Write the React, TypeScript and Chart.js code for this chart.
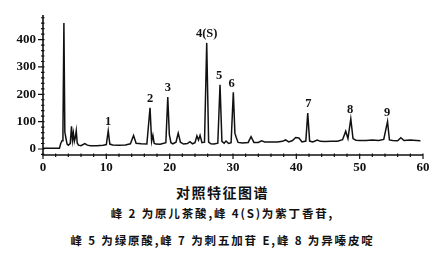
import React, { useEffect, useRef } from "react";
import { Chart, registerables } from "chart.js";

Chart.register(...registerables);

// Retention time (min)
const times = [
  0, 2.6, 2.8, 3.0, 3.15, 3.3, 3.45, 3.6, 3.8, 4.0, 4.3, 4.5, 4.65, 4.8, 4.95, 5.1, 5.25, 5.4, 5.6, 6.0,
  6.6, 7.0, 7.5, 8.5, 9.5, 10.0, 10.3, 10.55, 11, 12, 13, 13.8, 14.3, 14.7, 15.5, 16.4, 16.9, 17.15, 17.35, 17.55,
  17.8, 18.5, 19.4, 19.7, 19.95, 20.2, 20.5, 21.0, 21.35, 21.7, 22.2, 22.8, 23.2, 23.6, 24.0, 24.3, 24.55, 24.8, 25.1, 25.5,
  25.85, 26.15, 26.5, 27.0, 27.6, 27.95, 28.25, 28.6, 28.9, 29.3, 29.7, 30.05, 30.3, 30.5, 30.8, 31.5, 32.4, 32.85, 33.3, 34.0,
  34.5, 35.0, 36.0, 37.0, 37.8, 38.3, 38.8, 39.4, 39.9, 40.4, 40.9, 41.5, 41.8, 42.1, 42.6, 43.3, 43.8, 44.5, 45.5, 46.5,
  47.3, 47.8, 48.15, 48.6, 48.95, 49.4, 50.0, 51.0, 52.0, 53.0, 53.8, 54.4, 54.7, 55.2, 56.0, 56.5, 57.0, 58.0, 59.0, 59.6,
];
// Detector response (mAU)
const signal = [
  3, 3, 20, 30, 62, 461, 62, 42, 18, 14, 20, 83, 32, 58, 28, 42, 67, 22, 14, 12,
  20, 14, 12, 12, 14, 16, 66, 18, 15, 14, 15, 19, 49, 21, 19, 18, 151, 28, 50, 21,
  18, 17, 23, 190, 52, 23, 19, 25, 58, 25, 18, 20, 27, 19, 23, 48, 33, 50, 23, 25,
  388, 25, 19, 18, 21, 235, 28, 21, 29, 20, 23, 207, 58, 43, 24, 22, 24, 45, 24, 24,
  30, 26, 26, 26, 28, 33, 26, 31, 42, 40, 26, 29, 131, 29, 26, 33, 28, 27, 28, 28,
  34, 65, 38, 110, 38, 32, 31, 31, 33, 31, 35, 100, 33, 31, 30, 41, 31, 33, 31, 30,
];

// Peak annotations
const peakLabels = ["1", "2", "3", "4(S)", "5", "6", "7", "8", "9"];
const peakTimes = [10.3, 16.9, 19.7, 25.85, 27.8, 29.8, 41.9, 48.5, 54.35];
const peakHeights = [66, 151, 190, 388, 235, 207, 131, 110, 100];

const xMajorTicks = [0, 10, 20, 30, 40, 50, 60];
const yMajorTicks = [0, 100, 200, 300, 400];

const chartTitle = "对照特征图谱";
const noteLine1 = "峰 2 为原儿茶酸,峰 4(S)为紫丁香苷,";
const noteLine2 = "峰 5 为绿原酸,峰 7 为刺五加苷 E,峰 8 为异嗪皮啶";

const SERIF = "'Liberation Serif', 'Times New Roman', 'DejaVu Serif', serif";

const axisPlugin = {
  id: "axisPlugin",
  afterDraw(chart: any) {
    const ctx = chart.ctx;
    const xs = chart.scales.x;
    const ys = chart.scales.y;
    const area = chart.chartArea;
    ctx.save();
    ctx.strokeStyle = "#111";
    ctx.lineWidth = 1.6;
    ctx.beginPath();
    ctx.moveTo(area.left, area.top);
    ctx.lineTo(area.left, area.bottom);
    ctx.lineTo(area.right, area.bottom);
    ctx.stroke();
    ctx.lineWidth = 1.2;
    ctx.beginPath();
    for (let v = 0; v <= 60; v += 2) {
      const px = xs.getPixelForValue(v);
      const major = v % 10 === 0;
      ctx.moveTo(px, area.bottom - 1.5);
      ctx.lineTo(px, area.bottom + (major ? 4 : 2));
    }
    for (let v = -20; v <= 480; v += 20) {
      const py = ys.getPixelForValue(v);
      const major = v % 100 === 0;
      ctx.moveTo(area.left - (major ? 5 : 2), py);
      ctx.lineTo(area.left + 1.5, py);
    }
    ctx.stroke();

    ctx.fillStyle = "#111";
    ctx.font = `bold 12.5px ${SERIF}`;
    ctx.textAlign = "center";
    ctx.textBaseline = "middle";
    peakLabels.forEach((lab, i) => {
      const px = xs.getPixelForValue(peakTimes[i]);
      const py = ys.getPixelForValue(peakHeights[i]);
      ctx.fillText(lab, px, py - 9);
    });
    ctx.restore();
  },
};

export default function App() {
  const canvasRef = useRef<HTMLCanvasElement | null>(null);

  useEffect(() => {
    document.body.style.margin = "0";
    const canvas = canvasRef.current;
    if (!canvas) return;
    Chart.defaults.font.family = SERIF;
    const tickFont = { family: SERIF, size: 13, weight: "bold" as const };
    const chart = new Chart(canvas, {
      type: "line",
      data: {
        datasets: [
          {
            data: times.map((t, i) => ({ x: t, y: signal[i] })),
            borderColor: "#111",
            borderWidth: 1.5,
            pointRadius: 0,
            tension: 0,
            fill: false,
          },
        ],
      },
      options: {
        responsive: false,
        animation: false,
        devicePixelRatio: 1,
        layout: { padding: { left: 0, right: 22, top: 15, bottom: 0 } },
        plugins: { legend: { display: false }, tooltip: { enabled: false } },
        scales: {
          x: {
            type: "linear",
            min: 0,
            max: 60,
            grid: { display: false, drawTicks: false },
            border: { display: false },
            afterBuildTicks: (s: any) => {
              s.ticks = xMajorTicks.map((v) => ({ value: v }));
            },
            afterFit: (s: any) => {
              s.height = 20;
            },
            ticks: {
              padding: 5,
              maxRotation: 0,
              autoSkip: false,
              color: "#111",
              font: tickFont,
            },
          },
          y: {
            type: "linear",
            min: -22,
            max: 490,
            grid: { display: false, drawTicks: false },
            border: { display: false },
            afterBuildTicks: (s: any) => {
              s.ticks = yMajorTicks.map((v) => ({ value: v }));
            },
            afterFit: (s: any) => {
              s.width = 43;
            },
            ticks: {
              padding: 7,
              autoSkip: false,
              color: "#111",
              font: tickFont,
            },
          },
        },
      },
      plugins: [axisPlugin],
    });
    let alive = true;
    if ((document as any).fonts) {
      (document as any).fonts.load(`bold 13px 'Liberation Serif'`).then(() => {
        if (alive) chart.update();
      }).catch(() => {});
    }
    return () => {
      alive = false;
      chart.destroy();
    };
  }, []);

  const cjk = "'Noto Sans CJK SC', sans-serif";
  return (
    <div style={{ position: "relative", width: 445, height: 265, background: "#fff" }}>
      <canvas ref={canvasRef} width={445} height={175} style={{ display: "block" }} />
      <div
        style={{
          position: "absolute", left: 0, width: 445, top: 183, textAlign: "center",
          fontFamily: cjk, fontWeight: 700, fontSize: 14, letterSpacing: 1.5, color: "#111", lineHeight: "18px",
        }}
      >
        {chartTitle}
      </div>
      <div
        style={{
          position: "absolute", left: 0, width: 445, top: 205, textAlign: "center",
          fontFamily: cjk, fontWeight: 700, fontSize: 11.5, letterSpacing: 1.85, color: "#111", lineHeight: "16px",
        }}
      >
        {noteLine1}
      </div>
      <div
        style={{
          position: "absolute", left: 0, width: 445, top: 232, textAlign: "center",
          fontFamily: cjk, fontWeight: 700, fontSize: 11.5, letterSpacing: 1.85, color: "#111", lineHeight: "16px",
        }}
      >
        {noteLine2}
      </div>
    </div>
  );
}
